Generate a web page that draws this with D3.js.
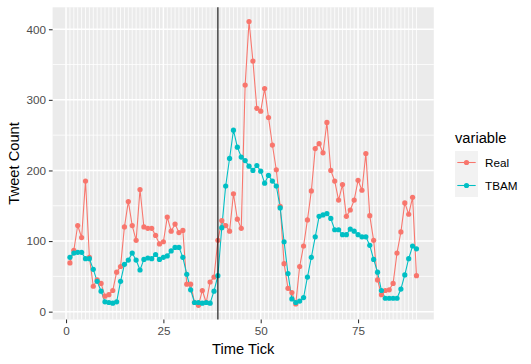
<!DOCTYPE html>
<html><head><meta charset="utf-8">
<script src="https://cdn.jsdelivr.net/npm/d3@7"></script>
<style>body{margin:0;background:#fff}svg{display:block}text{font-family:"Liberation Sans",Arial,sans-serif}</style>
</head><body><svg id="c" width="531" height="364"></svg>
<script>
const timeTicks = d3.range(1, 91);
const realValues = [69,87,122,105,185,77,36,45,40,22,24,30,56,64,120,156,122,101,173,120,
118,118,108,96,99,134,114,124,112,115,39,39,13,9,30,13,42,49,101,129,
122,114,167,131,118,321,411,355,288,284,316,275,236,201,149,68,33,27,11,64,
93,130,171,231,238,225,268,200,185,158,180,135,144,158,186,172,224,136,101,45,
24,30,31,40,83,113,154,138,162,51];
const tbamValues = [77,83,84,84,75,75,60,43,29,14,13,12,14,43,67,73,83,73,59,74,
76,75,81,74,77,79,86,91,91,77,53,31,13,13,12,13,12,29,51,119,
178,217,257,233,219,214,206,200,207,199,182,193,185,178,147,99,54,18,13,15,
20,49,77,106,135,137,139,132,116,116,109,109,117,114,109,106,106,94,74,56,
30,19,19,19,19,32,52,75,93,89];
const seriesNames = ["Real", "TBAM"];
const seriesColors = ["#F8766D", "#00BFC4"];
const xTicks = [0, 25, 50, 75];
const yTicks = [0, 100, 200, 300, 400];
const yMinor = [50, 150, 250, 350];
const vlineX = 39;

const series = [realValues, tbamValues].map((vals, i) => ({
  name: seriesNames[i], color: seriesColors[i],
  pts: vals.map((v, j) => ({x: timeTicks[j], y: v}))
}));

const svg = d3.select("#c");
const L = 52.6, R = 433.8, T = 7.3, B = 319.5;
const xe = d3.extent(timeTicks), xs = (xe[1]-xe[0])*0.05;
const allY = realValues.concat(tbamValues);
const ye = d3.extent(allY), ys = (ye[1]-ye[0])*0.05;
const x = d3.scaleLinear().domain([xe[0]-xs, xe[1]+xs]).range([L, R]);
const y = d3.scaleLinear().domain([ye[0]-ys, ye[1]+ys]).range([B, T]);

svg.append("rect").attr("x", L).attr("y", T).attr("width", R-L).attr("height", B-T).attr("fill", "#EBEBEB");
const g = svg.append("g");
// minor grid
const xMinor = d3.range(0, 91).filter(v => !xTicks.includes(v));
g.selectAll(".xm").data(xMinor).join("line").attr("x1", d=>x(d)).attr("x2", d=>x(d)).attr("y1", T).attr("y2", B)
  .attr("stroke", "#fff").attr("stroke-width", 0.8);
g.selectAll(".ym").data(yMinor).join("line").attr("y1", d=>y(d)).attr("y2", d=>y(d)).attr("x1", L).attr("x2", R)
  .attr("stroke", "#fff").attr("stroke-width", 0.8);
g.selectAll(".xM").data(xTicks).join("line").attr("x1", d=>x(d)).attr("x2", d=>x(d)).attr("y1", T).attr("y2", B)
  .attr("stroke", "#fff").attr("stroke-width", 1.5);
g.selectAll(".yM").data(yTicks).join("line").attr("y1", d=>y(d)).attr("y2", d=>y(d)).attr("x1", L).attr("x2", R)
  .attr("stroke", "#fff").attr("stroke-width", 1.5);

// axes
const xAxis = svg.append("g").attr("transform", `translate(0,${B})`)
  .call(d3.axisBottom(x).tickValues(xTicks).tickSize(3.7).tickPadding(3).tickFormat(d3.format("d")));
const yAxis = svg.append("g").attr("transform", `translate(${L},0)`)
  .call(d3.axisLeft(y).tickValues(yTicks).tickSize(3.7).tickPadding(3).tickFormat(d3.format("d")));
[xAxis, yAxis].forEach(a => {
  a.select(".domain").remove();
  a.selectAll(".tick line").attr("stroke", "#333333").attr("stroke-width", 1.07);
  a.selectAll(".tick text").attr("fill", "#4D4D4D").attr("font-size", "11.7px").attr("font-family", "Liberation Sans, Arial, sans-serif");
});

const line = d3.line().x(d => x(d.x)).y(d => y(d.y));
series.forEach(s => {
  svg.append("path").datum(s.pts).attr("d", line).attr("fill", "none").attr("stroke", s.color).attr("stroke-width", 1.07);
});
series.forEach(s => {
  svg.append("g").selectAll("circle").data(s.pts).join("circle")
    .attr("cx", d => x(d.x)).attr("cy", d => y(d.y)).attr("r", 2.6).attr("fill", s.color);
});
svg.append("line").attr("x1", x(vlineX)).attr("x2", x(vlineX)).attr("y1", T).attr("y2", B)
  .attr("stroke", "#000").attr("stroke-width", 1.07);

// titles
svg.append("text").attr("x", (L+R)/2).attr("y", 354).attr("text-anchor", "middle").attr("font-size", "14.7px").attr("fill", "#000").text("Time Tick");
svg.append("text").attr("transform", `translate(19,${(T+B)/2}) rotate(-90)`).attr("text-anchor", "middle").attr("font-size", "14.7px").attr("fill", "#000").text("Tweet Count");

// legend
const lg = svg.append("g");
lg.append("text").attr("x", 455).attr("y", 142.5).attr("font-size", "14.7px").attr("fill", "#000").text("variable");
series.forEach((s, i) => {
  const ky = 151 + i*23;
  lg.append("rect").attr("x", 455).attr("y", ky).attr("width", 23).attr("height", 23).attr("fill", "#F2F2F2");
  lg.append("line").attr("x1", 457.3).attr("x2", 475.7).attr("y1", ky+11.5).attr("y2", ky+11.5).attr("stroke", s.color).attr("stroke-width", 1.07);
  lg.append("circle").attr("cx", 466.5).attr("cy", ky+11.5).attr("r", 2.6).attr("fill", s.color);
  lg.append("text").attr("x", 485).attr("y", ky+11.5).attr("dy", "0.35em").attr("font-size", "11.7px").attr("fill", "#000").text(s.name);
});
</script></body></html>
